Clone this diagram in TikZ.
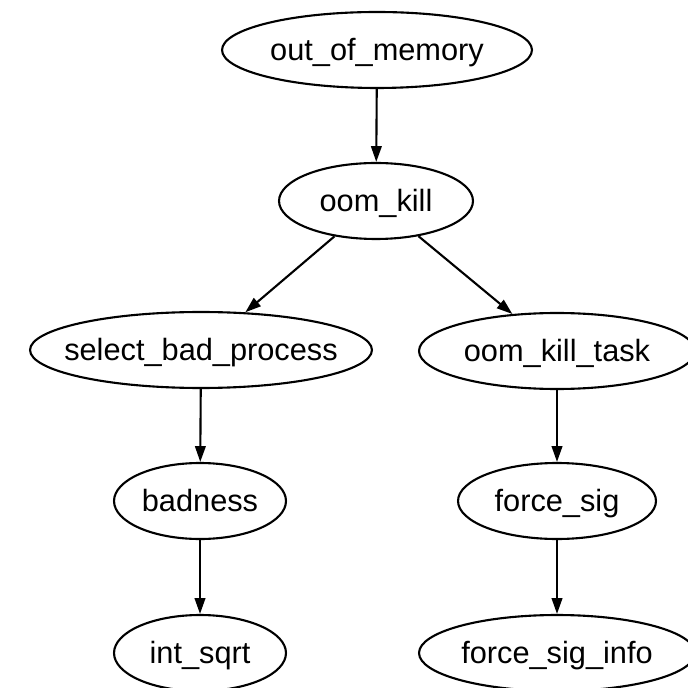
\documentclass[tikz,border=0pt]{standalone}
\usepackage{fontspec}
\setmainfont{Liberation Sans}
\usetikzlibrary{shapes.geometric,arrows.meta}

\begin{document}
\begin{tikzpicture}[x=0.02cm,y=-0.02cm,line width=1.2pt]

        \useasboundingbox (0,0) rectangle (687,688);

        \begin{scope}[every node/.style={ellipse,draw,inner sep=0pt,minimum height=1.52cm,
            text height=12.5pt,text depth=0pt,font=\fontsize{17.5}{20}\selectfont}]
          \node[minimum width=6.2cm]  (mem)  at (377,50)  {\makebox[0pt]{out\_of\_memory}};
          \node[minimum width=3.88cm] (kill) at (376,201) {\makebox[0pt]{oom\_kill}};
          \node[minimum width=6.84cm] (sel)  at (201,350) {\makebox[0pt]{select\_bad\_process}};
          \node[minimum width=5.52cm] (task) at (557,351) {\makebox[0pt]{oom\_kill\_task}};
          \node[minimum width=3.44cm] (bad)  at (200,501) {\makebox[0pt]{badness}};
          \node[minimum width=3.96cm] (sig)  at (557,501) {\makebox[0pt]{force\_sig}};
          \node[minimum width=3.44cm] (sqrt) at (200,653) {\makebox[0pt]{int\_sqrt}};
          \node[minimum width=5.52cm] (info) at (557,653) {\makebox[0pt]{force\_sig\_info}};
        \end{scope}

        \begin{scope}[every edge/.style={draw,-{Triangle[length=9pt,width=6pt]}}]
          \path (mem)  edge (kill);
          \path (kill) edge (sel);
          \path (kill) edge (task);
          \path (sel)  edge (bad);
          \path (task) edge (sig);
          \path (bad)  edge (sqrt);
          \path (sig)  edge (info);
        \end{scope}

      \end{tikzpicture}
\end{document}
